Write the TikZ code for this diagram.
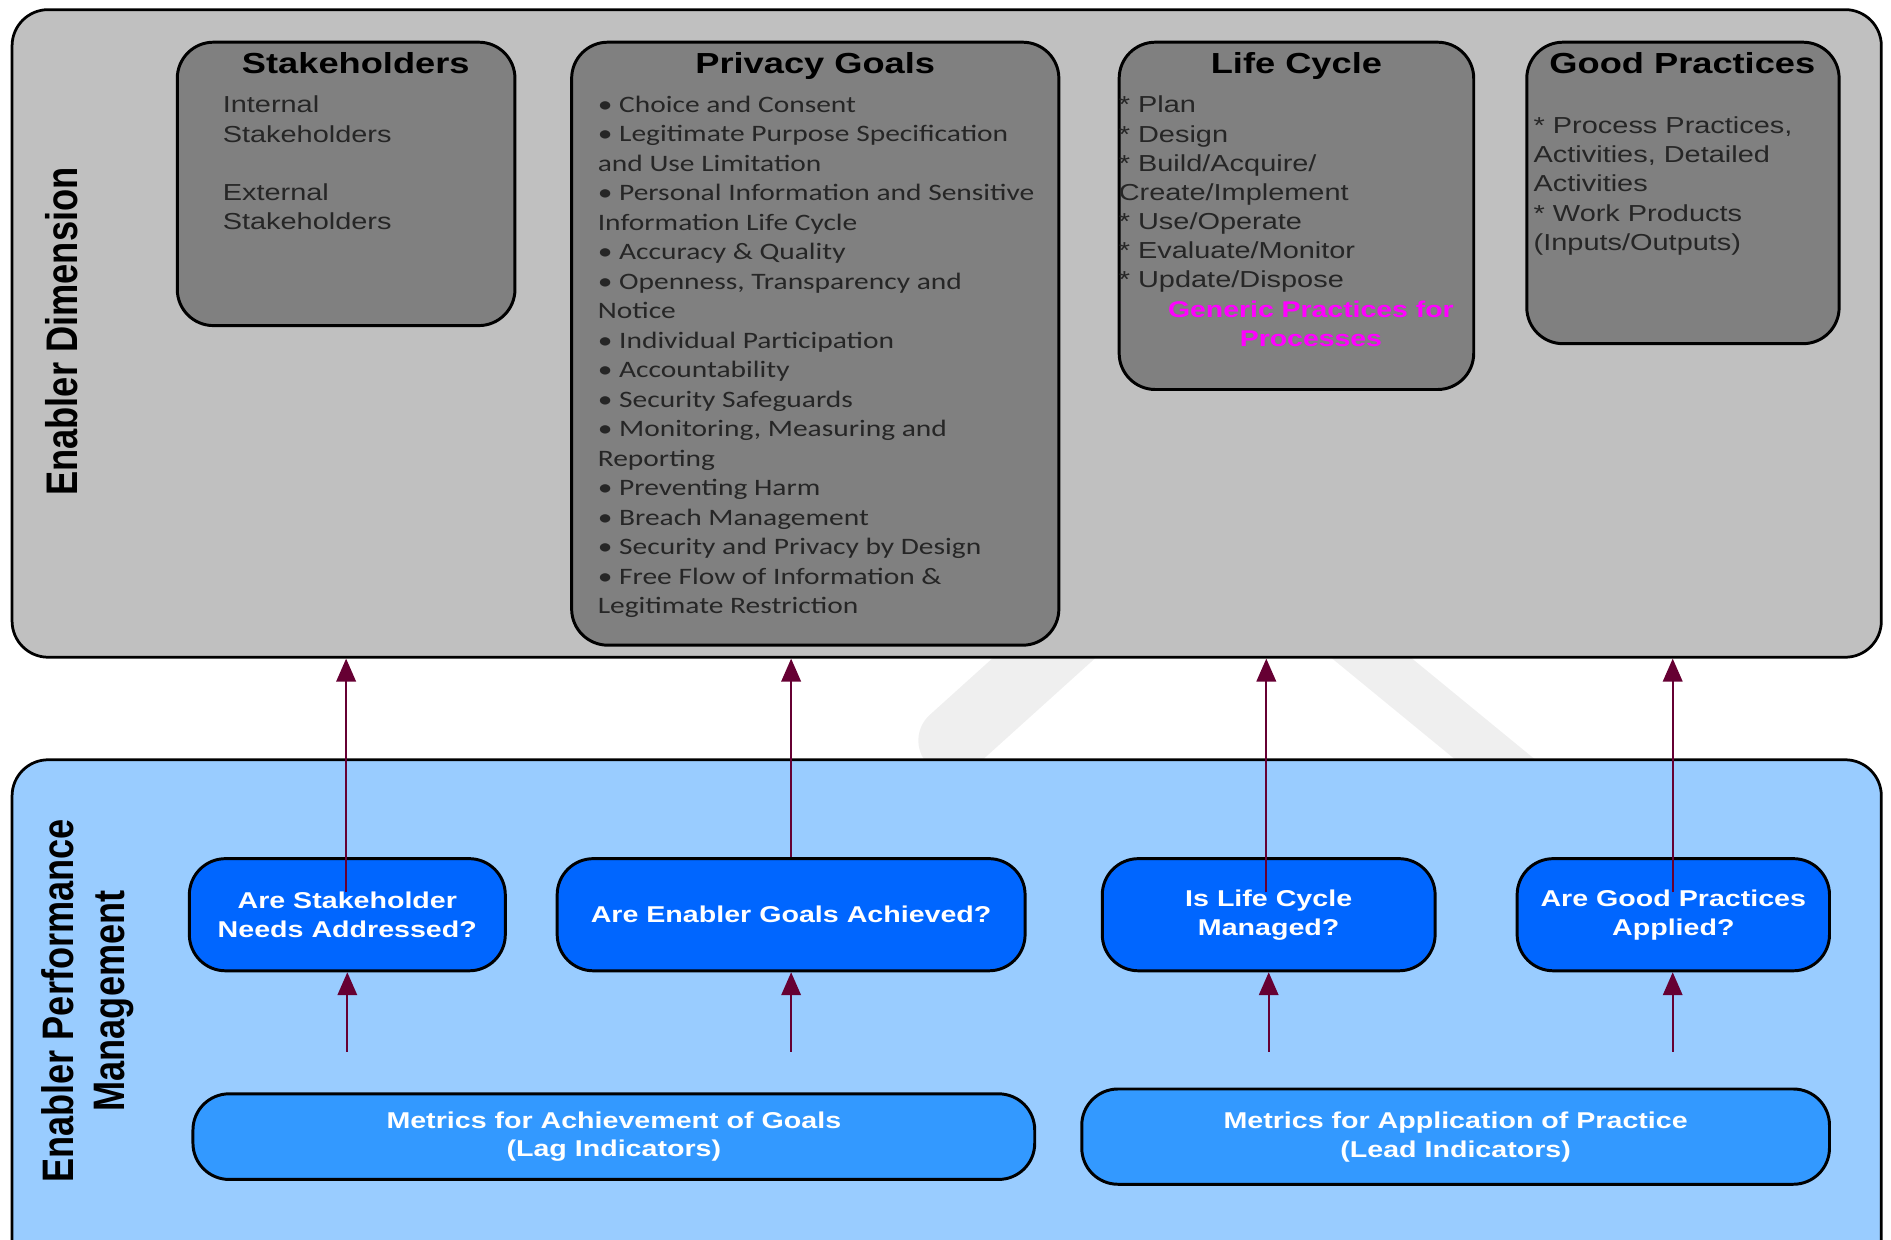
\documentclass[tikz,border=0pt]{standalone}
\usepackage{fontspec}
\setmainfont[FakeStretch=1.25]{Liberation Sans}
\newfontfamily\goalsfont[FakeStretch=1.25]{Carlito}
\newfontfamily\sidefont[FakeStretch=0.82]{Liberation Sans}
\usepackage{xcolor}
\usepackage{tikz}
\usetikzlibrary{arrows.meta,positioning,calc}
\definecolor{enablergray}{HTML}{C0C0C0}
\definecolor{dimgray}{HTML}{808080}
\definecolor{perfblue}{HTML}{99CCFF}
\definecolor{askblue}{HTML}{0066FF}
\definecolor{metricblue}{HTML}{3399FF}
\definecolor{linkred}{HTML}{660033}
\definecolor{gpmagenta}{HTML}{FF00FF}
\definecolor{wmgray}{HTML}{EFEFEF}
\tikzset{
  layerbox/.style={draw, line width=0.65pt, rounded corners=3mm, inner sep=0pt},
  dimbox/.style={draw, fill=dimgray, line width=0.7pt, rounded corners=3mm, inner sep=0pt},
  dimtitle/.style={anchor=base, inner sep=0pt, font=\fontsize{6.84}{8}\selectfont\bfseries},
  dimtext/.style={anchor=north west, inner sep=0pt, align=left, text=black!85,
                  font=\fontsize{5.46}{6.9}\selectfont},
  askbox/.style={draw, fill=askblue, line width=0.7pt, rounded corners=3mm,
                 minimum height=9.3mm, text=white, align=center,
                 font=\fontsize{5.4}{6.83}\selectfont\bfseries},
  metricbox/.style={draw, fill=metricblue, line width=0.7pt, rounded corners=3mm,
                    text=white, align=center, font=\fontsize{5.4}{6.83}\selectfont\bfseries},
  uparrow/.style={-{Triangle[length=5.4pt,width=4.6pt]}, line width=0.45pt, linkred},
  sidelabel/.style={rotate=90, align=center, inner sep=0pt}
}

\begin{document}
\begin{tikzpicture}[x=0.1mm, y=-0.1mm]
    \useasboundingbox (0,0) rectangle (1568,1028);

    % watermark behind the layers
    \draw[wmgray, line width=5.7mm, line cap=round] (790,614) -- (995,429);
    \draw[wmgray, line width=4.2mm, line cap=round] (995,429) -- (1301,680);

    % layers
    \node[layerbox, fill=enablergray, minimum width=155mm, minimum height=53.7mm] (dim) at (785,276.5) {};
    \node[layerbox, fill=perfblue, minimum width=155mm, minimum height=44.5mm] (perf) at (785,852.5) {};

    \node[sidelabel, font=\sidefont\fontsize{10.44}{12}\selectfont\bfseries] (dimlabel) at (51,275) {Enabler Dimension};
    \node[sidelabel, font=\sidefont\fontsize{10.4}{11.95}\selectfont\bfseries] (perflabel) at (72.5,830)
      {Enabler Performance\\Management};

    % Stakeholders
    \node[dimbox, minimum width=28mm, minimum height=23.5mm] (stake) at (287,152.5) {};
    \node[dimtitle] (staketitle) at (295,61) {Stakeholders};
    \node[dimtext] (staketext) at (184,79)
      {Internal\\Stakeholders\\[6.9pt]External\\Stakeholders};

    % Privacy goals
    \node[dimbox, minimum width=40.4mm, minimum height=50mm] (goals) at (676,285) {};
    \node[dimtitle] (goalstitle) at (676,61) {Privacy Goals};
    \node[dimtext, font=\goalsfont\fontsize{5.56}{6.96}\selectfont] (goalstext) at (495,79){
      • Choice and Consent\\
      • Legitimate Purpose Specification\\
      and Use Limitation\\
      • Personal Information and Sensitive\\
      Information Life Cycle\\
      • Accuracy \& Quality\\
      • Openness, Transparency and\\
      Notice\\
      • Individual Participation\\
      • Accountability\\
      • Security Safeguards\\
      • Monitoring, Measuring and\\
      Reporting\\
      • Preventing Harm\\
      • Breach Management\\
      • Security and Privacy by Design\\
      • Free Flow of Information \&\\
      Legitimate Restriction
    };

    % Life cycle
    \node[dimbox, minimum width=29.4mm, minimum height=28.8mm] (cycle) at (1075,179) {};
    \node[dimtitle] (cycletitle) at (1075,61) {Life Cycle};
    \node[dimtext, font=\fontsize{5.46}{6.88}\selectfont] (cycletext) at (927,79){
      * Plan\\
      * Design\\
      * Build/Acquire/\\
      Create/Implement\\
      * Use/Operate\\
      * Evaluate/Monitor\\
      * Update/Dispose
    };
    \node[anchor=north, inner sep=0pt, align=center, text=gpmagenta,
          font=\fontsize{5.36}{6.83}\selectfont\bfseries] (generic) at (1087,249)
      {Generic Practices for\\Processes};

    % Good practices
    \node[dimbox, minimum width=25.9mm, minimum height=25mm] (practice) at (1395.5,160) {};
    \node[dimtitle] (practicetitle) at (1395,61) {Good Practices};
    \node[dimtext] (practicetext) at (1271,96){
      * Process Practices,\\
      Activities, Detailed\\
      Activities\\
      * Work Products\\
      (Inputs/Outputs)
    };

    % Questions
    \node[askbox, minimum width=26.2mm] (ask1) at (288,758.5) {Are Stakeholder\\Needs Addressed?};
    \node[askbox, minimum width=38.8mm] (ask2) at (656,758.5) {Are Enabler Goals Achieved?};
    \node[askbox, minimum width=27.6mm] (ask3) at (1052,758.5) {Is Life Cycle\\Managed?};
    \node[askbox, minimum width=25.9mm] (ask4) at (1387.5,758.5) {Are Good Practices\\Applied?};

    % Metrics
    \node[metricbox, minimum width=69.8mm, minimum height=7.1mm] (lag) at (509,942.5)
      {Metrics for Achievement of Goals\\(Lag Indicators)};
    \node[metricbox, minimum width=62mm, minimum height=7.9mm] (lead) at (1207,942.5)
      {Metrics for Application of Practice\\(Lead Indicators)};

    % Arrows to the enabler dimension
    \coordinate (src1) at (287,740);
    \coordinate (src3) at (1050,740);
    \coordinate (src4) at (1387,740);
    \draw[uparrow] (src1) -- (src1 |- dim.south);
    \draw[uparrow] (ask2.north) -- (ask2.north |- dim.south);
    \draw[uparrow] (src3) -- (src3 |- dim.south);
    \draw[uparrow] (src4) -- (src4 |- dim.south);

    % Arrows from the metrics
    \coordinate (lag1) at (288,872);
    \coordinate (lag2) at (656,872);
    \coordinate (lead3) at (1052,872);
    \coordinate (lead4) at (1387,872);
    \draw[uparrow] (lag1) -- (lag1 |- ask1.south);
    \draw[uparrow] (lag2) -- (lag2 |- ask2.south);
    \draw[uparrow] (lead3) -- (lead3 |- ask3.south);
    \draw[uparrow] (lead4) -- (lead4 |- ask4.south);
\end{tikzpicture}
\end{document}
